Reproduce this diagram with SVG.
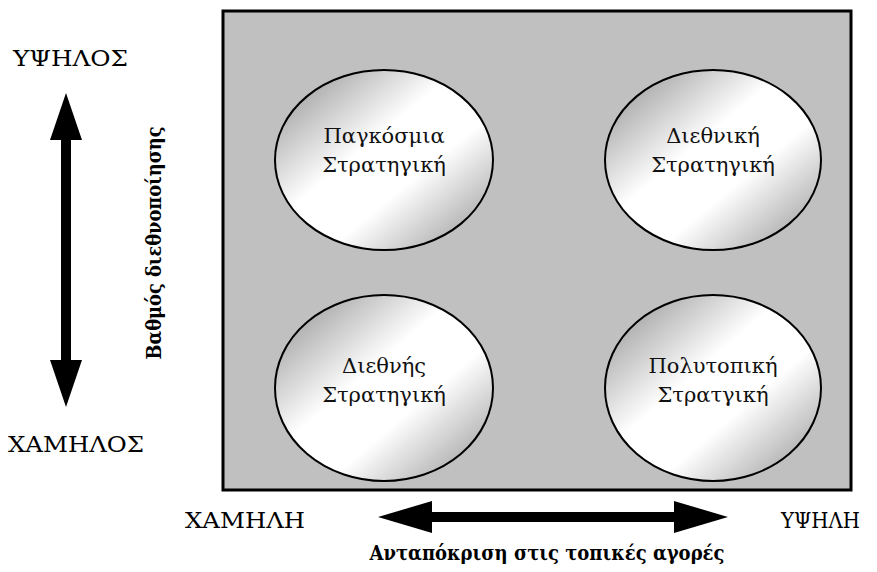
<svg xmlns="http://www.w3.org/2000/svg" width="877" height="572" viewBox="0 0 877 572">
<defs>
<linearGradient id="g" x1="0" y1="0" x2="1" y2="1">
<stop offset="0" stop-color="#8a8a8a"/>
<stop offset="0.42" stop-color="#ffffff"/>
<stop offset="0.62" stop-color="#ffffff"/>
<stop offset="1" stop-color="#8f8f8f"/>
</linearGradient>
</defs>
<style>
.c{fill:url(#g);stroke:#000;stroke-width:2}
.t{font-family:"DejaVu Serif",serif;font-size:21px;fill:#111;text-anchor:middle}
.l{font-family:"DejaVu Serif",serif;font-size:23px;fill:#000}
.b{font-family:"DejaVu Serif",serif;font-size:21px;font-weight:bold;fill:#000;text-anchor:middle}
.a{fill:#000}
</style>
<rect width="877" height="572" fill="#fff"/>
<rect id="frame" x="223" y="11" width="628" height="479" fill="#c0c0c0" stroke="#000" stroke-width="3"/>
<g id="global">
<ellipse class="c" cx="384" cy="160" rx="109" ry="90"/>
<text class="t" x="384" y="143">Παγκόσμια</text>
<text class="t" x="384" y="172">Στρατηγική</text>
</g>
<g id="diethniki">
<ellipse class="c" cx="713" cy="160" rx="108" ry="90"/>
<text class="t" x="713" y="143">Διεθνική</text>
<text class="t" x="713" y="172">Στρατηγική</text>
</g>
<g id="diethnis">
<ellipse class="c" cx="384" cy="388" rx="109" ry="93"/>
<text class="t" x="384" y="373">Διεθνής</text>
<text class="t" x="384" y="402">Στρατηγική</text>
</g>
<g id="polytopiki">
<ellipse class="c" cx="713" cy="388" rx="108" ry="93"/>
<text class="t" x="713" y="373">Πολυτοπική</text>
<text class="t" x="713" y="402">Στρατγική</text>
</g>
<g id="connectors">
<polygon class="a" points="66,93 82,140 71,140 71,360 82,360 66,407 50,360 61,360 61,140 50,140"/>
<polygon class="a" points="378,517 432,501 432,512 674,512 674,501 728,517 674,533 674,522 432,522 432,533"/>
</g>
<g id="labels">
<text class="l" x="13" y="66" textLength="115" lengthAdjust="spacingAndGlyphs">ΥΨΗΛΟΣ</text>
<text class="l" x="8" y="452" textLength="136" lengthAdjust="spacingAndGlyphs">ΧΑΜΗΛΟΣ</text>
<text class="l" x="185" y="528" textLength="120" lengthAdjust="spacingAndGlyphs">ΧΑΜΗΛΗ</text>
<text class="l" x="781" y="528" textLength="79" lengthAdjust="spacingAndGlyphs">ΥΨΗΛΗ</text>
<text class="b" x="547" y="560" textLength="355" lengthAdjust="spacingAndGlyphs">Ανταπόκριση στις τοπικές αγορές</text>
<text class="b" transform="translate(161,243) rotate(-90)" x="0" y="0" textLength="233" lengthAdjust="spacingAndGlyphs">Βαθμός διεθνοποίησης</text>
</g>
</svg>
